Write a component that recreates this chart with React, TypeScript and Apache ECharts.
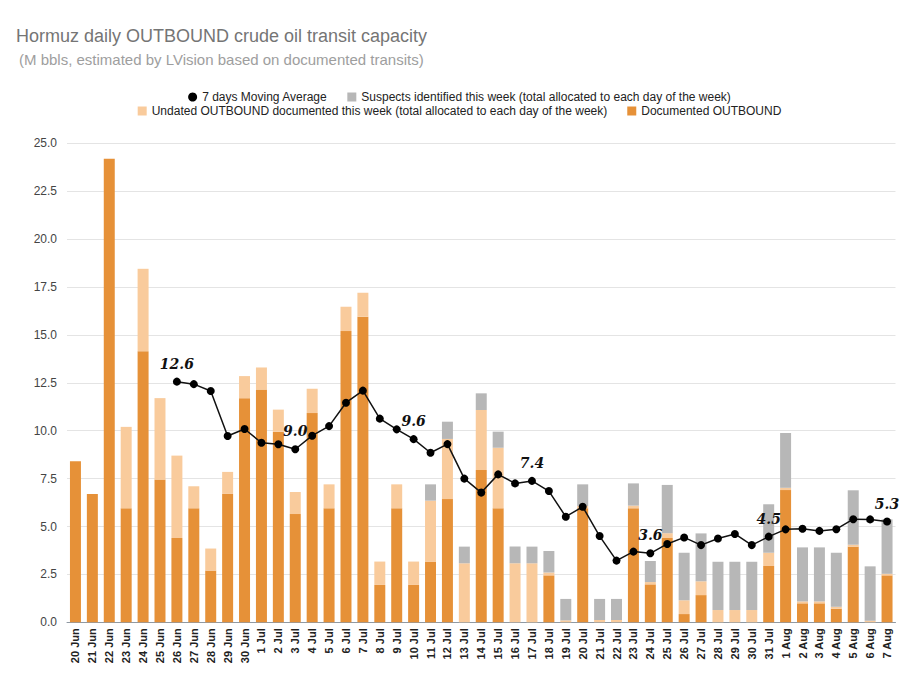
import React, { useEffect, useRef } from "react";
import * as echarts from "echarts";

const categories = [
  "20 Jun", "21 Jun", "22 Jun", "23 Jun", "24 Jun", "25 Jun", "26 Jun", "27 Jun", "28 Jun", "29 Jun", "30 Jun",
  "1 Jul", "2 Jul", "3 Jul", "4 Jul", "5 Jul", "6 Jul", "7 Jul", "8 Jul", "9 Jul", "10 Jul",
  "11 Jul", "12 Jul", "13 Jul", "14 Jul", "15 Jul", "16 Jul", "17 Jul", "18 Jul", "19 Jul", "20 Jul",
  "21 Jul", "22 Jul", "23 Jul", "24 Jul", "25 Jul", "26 Jul", "27 Jul", "28 Jul", "29 Jul", "30 Jul", "31 Jul",
  "1 Aug", "2 Aug", "3 Aug", "4 Aug", "5 Aug", "6 Aug", "7 Aug",
];

const documented = [
  8.4, 6.7, 24.2, 5.95, 14.15, 7.45, 4.4, 5.95, 2.7, 6.7, 11.7,
  12.15, 9.95, 5.65, 10.92, 5.95, 15.2, 15.95, 1.95, 5.95, 1.95,
  3.15, 6.43, 0, 7.95, 5.95, 0, 0, 2.45, 0, 5.95,
  0, 0, 5.95, 1.98, 4.4, 0.43, 1.42, 0, 0, 0, 2.94,
  6.9, 0.99, 0.99, 0.71, 3.95, 0, 2.45,
];

const undated = [
  0, 0, 0, 4.25, 4.3, 4.25, 4.3, 1.15, 1.15, 1.15, 1.15,
  1.15, 1.15, 1.15, 1.27, 1.25, 1.27, 1.25, 1.22, 1.25, 1.22,
  3.2, 3.14, 3.08, 3.13, 3.16, 3.08, 3.08, 0.15, 0.1, 0.12,
  0.12, 0.12, 0.14, 0.12, 0.25, 0.72, 0.72, 0.64, 0.64, 0.64, 0.69,
  0.12, 0.1, 0.1, 0.1, 0.1, 0.08, 0.08,
];

const suspects = [
  0, 0, 0, 0, 0, 0, 0, 0, 0, 0, 0,
  0, 0, 0, 0, 0, 0, 0, 0, 0, 0,
  0.85, 0.9, 0.87, 0.87, 0.84, 0.87, 0.87, 1.12, 1.12, 1.13,
  1.1, 1.1, 1.16, 1.1, 2.52, 2.48, 2.5, 2.52, 2.52, 2.52, 2.53,
  2.86, 2.82, 2.82, 2.82, 2.84, 2.84, 2.84,
];

const movingAvg: (number | null)[] = [
  null, null, null, null, null, null, 12.56, 12.43, 12.07, 9.72, 10.09,
  9.37, 9.29, 9.03, 9.74, 10.24, 11.46, 12.09, 10.63, 10.07, 9.56,
  8.85, 9.3, 7.5, 6.77, 7.72, 7.25, 7.38, 6.85, 5.51, 6.03,
  4.5, 3.22, 3.69, 3.6, 4.09, 4.43, 4.03, 4.37, 4.61, 4.03, 4.47,
  4.85, 4.88, 4.77, 4.86, 5.38, 5.37, 5.26,
];

const labelledDays = ["26 Jun", "3 Jul", "10 Jul", "17 Jul", "24 Jul", "31 Jul", "7 Aug"];

const yTicks = { min: 0, max: 25, interval: 2.5 };

const NAMES = {
  ma: "7 days Moving Average",
  sus: "Suspects identified this week (total allocated to each day of the week)",
  und: "Undated OUTBOUND documented this week (total allocated to each day of the week)",
  doc: "Documented OUTBOUND",
};

const SANS = "'Liberation Sans', Arial, sans-serif";

export default function App() {
  const ref = useRef<HTMLDivElement>(null);

  useEffect(() => {
    if (!ref.current) return;
    const chart = echarts.init(ref.current, undefined, { renderer: "svg" });

    const maData = movingAvg.map((v, i) =>
      labelledDays.includes(categories[i]) && v !== null
        ? { value: v, label: { show: true } }
        : v
    );

    const legendText = { color: "#222", fontSize: 12, fontFamily: SANS };

    chart.setOption({
      animation: false,
      backgroundColor: "#ffffff",
      title: [
        {
          text: "Hormuz daily OUTBOUND crude oil transit capacity",
          left: 11,
          top: 22,
          textStyle: { color: "#757575", fontSize: 18, fontWeight: "normal", fontFamily: SANS },
        },
        {
          text: "(M bbls, estimated by LVision based on documented transits)",
          left: 14,
          top: 47,
          textStyle: { color: "#9e9e9e", fontSize: 15, fontWeight: "normal", fontFamily: SANS },
        },
      ],
      legend: [
        {
          data: [
            { name: NAMES.ma, icon: "circle" },
            { name: NAMES.sus, icon: "rect" },
          ],
          top: 86,
          left: "center",
          itemWidth: 9,
          itemHeight: 9,
          itemGap: 20,
          textStyle: legendText,
          selectedMode: false,
        },
        {
          data: [
            { name: NAMES.und, icon: "rect" },
            { name: NAMES.doc, icon: "rect" },
          ],
          top: 100,
          left: "center",
          itemWidth: 9,
          itemHeight: 9,
          itemGap: 20,
          textStyle: legendText,
          selectedMode: false,
        },
      ],
      grid: { left: 67, right: 23.5, top: 143.3, bottom: 65.7, containLabel: false },
      xAxis: {
        type: "category",
        data: categories,
        axisTick: { show: false },
        axisLine: { lineStyle: { color: "#8f99a3", width: 1 } },
        axisLabel: {
          interval: 0,
          rotate: 90,
          margin: 6,
          color: "#222",
          fontSize: 11,
          fontWeight: "bold",
          fontFamily: SANS,
        },
      },
      yAxis: {
        type: "value",
        min: yTicks.min,
        max: yTicks.max,
        interval: yTicks.interval,
        axisLine: { show: false },
        axisTick: { show: false },
        splitLine: { lineStyle: { color: "#e4e4e4", width: 1 } },
        axisLabel: {
          color: "#444",
          fontSize: 12,
          margin: 10,
          fontFamily: SANS,
          formatter: (v: number) => v.toFixed(1),
        },
      },
      series: [
        {
          name: NAMES.doc,
          type: "bar",
          stack: "total",
          data: documented,
          barWidth: "65%",
          itemStyle: { color: "#e69138" },
        },
        {
          name: NAMES.und,
          type: "bar",
          stack: "total",
          data: undated,
          barWidth: "65%",
          itemStyle: { color: "#f9cb9c" },
        },
        {
          name: NAMES.sus,
          type: "bar",
          stack: "total",
          data: suspects,
          barWidth: "65%",
          itemStyle: { color: "#b7b7b7" },
        },
        {
          name: NAMES.ma,
          type: "line",
          data: maData,
          z: 10,
          symbol: "circle",
          symbolSize: 8,
          itemStyle: { color: "#000" },
          lineStyle: { color: "#111", width: 1.5 },
          label: {
            show: false,
            position: "top",
            distance: 7,
            color: "#111",
            fontSize: 14,
            fontWeight: "bold",
            fontStyle: "italic",
            fontFamily: "'DejaVu Serif', 'Liberation Serif', serif",
            formatter: (p: any) => Number(p.value).toFixed(1),
          },
        },
      ],
    });

    return () => chart.dispose();
  }, []);

  return (
    <div
      ref={ref}
      style={{ position: "fixed", left: 0, top: 0, width: 919, height: 688 }}
    />
  );
}
